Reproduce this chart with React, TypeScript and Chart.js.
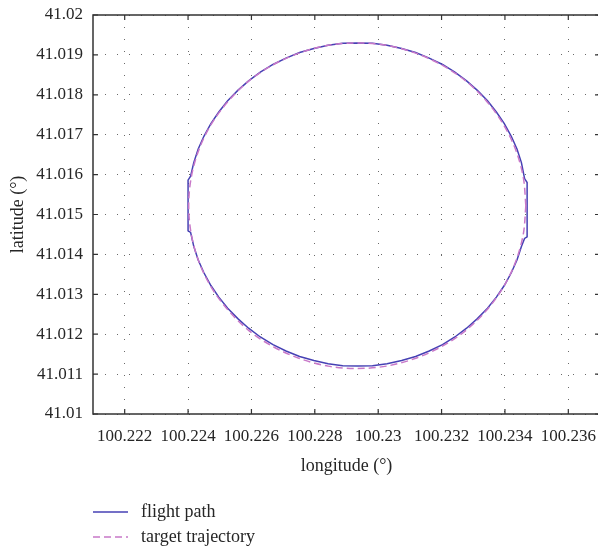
import { useEffect, useRef } from "react";
import { Chart, registerables } from "chart.js";

Chart.register(...registerables);

// Recorded flight path (longitude / latitude, degrees)
const flightLon = [
  100.2347, 100.2347, 100.23462, 100.23452, 100.23438, 100.2342, 100.23398, 100.23373,
  100.23345, 100.23313, 100.23279, 100.23242, 100.23203, 100.23161, 100.23118, 100.23074,
  100.23028, 100.22982, 100.22935, 100.22888, 100.22842, 100.22797, 100.22752, 100.22709,
  100.22668, 100.22628, 100.22591, 100.22557, 100.22525, 100.22497, 100.22472, 100.2245,
  100.22432, 100.22418, 100.22408, 100.224, 100.224, 100.224, 100.22408, 100.22418,
  100.22432, 100.2245, 100.22472, 100.22497, 100.22525, 100.22557, 100.22591, 100.22628,
  100.22668, 100.22709, 100.22752, 100.22797, 100.22842, 100.22888, 100.22935, 100.22982,
  100.23028, 100.23074, 100.23118, 100.23161, 100.23203, 100.23242, 100.23279, 100.23313,
  100.23345, 100.23373, 100.23398, 100.2342, 100.23438, 100.23452, 100.23462, 100.2347,
  100.2347,
];
const flightLat = [
  41.01525, 41.0158, 41.0159, 41.0163, 41.01664, 41.01696, 41.01728, 41.01757,
  41.01785, 41.01811, 41.01835, 41.01857, 41.01876, 41.01892, 41.01906, 41.01916,
  41.01924, 41.01929, 41.0193, 41.01929, 41.01924, 41.01916, 41.01906, 41.01892,
  41.01876, 41.01857, 41.01835, 41.01811, 41.01785, 41.01757, 41.01728, 41.01696,
  41.01664, 41.0163, 41.01596, 41.01586, 41.01525, 41.01459, 41.01455, 41.0142,
  41.01386, 41.01354, 41.01322, 41.01293, 41.01265, 41.01239, 41.01215, 41.01193,
  41.01174, 41.01158, 41.01144, 41.01134, 41.01126, 41.01121, 41.0112, 41.01121,
  41.01126, 41.01134, 41.01144, 41.01158, 41.01174, 41.01193, 41.01215, 41.01239,
  41.01265, 41.01293, 41.01322, 41.01354, 41.01386, 41.0142, 41.0144, 41.01444,
  41.01525,
];

// Planned circular trajectory (longitude / latitude, degrees)
const targetLon = [
  100.23466, 100.23458, 100.23434, 100.23395, 100.23342, 100.23276, 100.232, 100.23116,
  100.23026, 100.22934, 100.22842, 100.22752, 100.22668, 100.22592, 100.22527, 100.22473,
  100.22434, 100.2241, 100.22402, 100.2241, 100.22434, 100.22473, 100.22527, 100.22592,
  100.22668, 100.22752, 100.22842, 100.22934, 100.23026, 100.23116, 100.232, 100.23276,
  100.23342, 100.23395, 100.23434, 100.23458, 100.23466,
];
const targetLat = [
  41.01522, 41.01593, 41.01662, 41.01726, 41.01784, 41.01835, 41.01875, 41.01905,
  41.01924, 41.0193, 41.01924, 41.01905, 41.01875, 41.01835, 41.01784, 41.01726,
  41.01662, 41.01593, 41.01522, 41.01451, 41.01382, 41.01318, 41.0126, 41.01209,
  41.01169, 41.01139, 41.0112, 41.01114, 41.0112, 41.01139, 41.01169, 41.01209,
  41.0126, 41.01318, 41.01382, 41.01451, 41.01522,
];

const lonTicks = [100.222, 100.224, 100.226, 100.228, 100.23, 100.232, 100.234, 100.236];
const latTicks = [41.01, 41.011, 41.012, 41.013, 41.014, 41.015, 41.016, 41.017, 41.018, 41.019, 41.02];
const seriesNames = ["flight path", "target trajectory"];

const FONT = '"Liberation Serif", "Times New Roman", serif';
const TEXT = "#262626";
const FRAME = "#333333";
const FLIGHT_COLOR = "#4641b4";
const TARGET_COLOR = "#c878c8";

const fmt = (v: number) => String(Number(Number(v).toFixed(4)));

// Box around the plot with short inward tick marks
const framePlugin = {
  id: "frameTicks",
  afterDatasetsDraw(chart: any) {
    const { ctx, chartArea: a, scales } = chart;
    ctx.save();
    ctx.strokeStyle = FRAME;
    ctx.lineWidth = 1.5;
    ctx.strokeRect(a.left, a.top, a.right - a.left, a.bottom - a.top);
    ctx.lineWidth = 1.2;
    const t = 5;
    ctx.beginPath();
    for (const v of lonTicks) {
      const x = scales.x.getPixelForValue(v);
      ctx.moveTo(x, a.bottom);
      ctx.lineTo(x, a.bottom - t);
      ctx.moveTo(x, a.top);
      ctx.lineTo(x, a.top + t);
    }
    for (const v of latTicks) {
      const y = scales.y.getPixelForValue(v);
      ctx.moveTo(a.left, y);
      ctx.lineTo(a.left + t, y);
      ctx.moveTo(a.right, y);
      ctx.lineTo(a.right - t, y);
    }
    ctx.stroke();
    ctx.restore();
  },
};

// Two-row legend under the x-axis title
const legendPlugin = {
  id: "stackedLegend",
  afterDraw(chart: any) {
    const { ctx } = chart;
    const rows = [
      { ds: chart.data.datasets[0], y: 512 },
      { ds: chart.data.datasets[1], y: 537 },
    ];
    ctx.save();
    for (const r of rows) {
      ctx.strokeStyle = r.ds.borderColor;
      ctx.lineWidth = 1.5;
      ctx.setLineDash(r.ds.borderDash || []);
      ctx.beginPath();
      ctx.moveTo(93, r.y);
      ctx.lineTo(128, r.y);
      ctx.stroke();
      ctx.setLineDash([]);
      ctx.fillStyle = TEXT;
      ctx.font = `18px ${FONT}`;
      ctx.textAlign = "left";
      ctx.textBaseline = "middle";
      ctx.fillText(r.ds.label, 141, r.y);
    }
    ctx.restore();
  },
};

// Fixed axis box sizes; no extra label overhang padding
const noOverhang = (s: any) => {
  s.paddingTop = 0;
  s.paddingBottom = 0;
  s.paddingLeft = 0;
  s.paddingRight = 0;
};

export default function App() {
  const canvasRef = useRef<HTMLCanvasElement | null>(null);

  useEffect(() => {
    const canvas = canvasRef.current;
    if (!canvas) return;
    const chart = new Chart(canvas, {
      type: "scatter",
      data: {
        datasets: [
          {
            label: seriesNames[0],
            data: flightLon.map((x, i) => ({ x, y: flightLat[i] })),
            showLine: true,
            borderColor: FLIGHT_COLOR,
            borderWidth: 1.5,
            pointRadius: 0,
            tension: 0,
            fill: false,
            order: 2,
          },
          {
            label: seriesNames[1],
            data: targetLon.map((x, i) => ({ x, y: targetLat[i] })),
            showLine: true,
            borderColor: TARGET_COLOR,
            borderWidth: 1.5,
            borderDash: [7, 4],
            pointRadius: 0,
            tension: 0.33,
            fill: false,
            order: 1,
          },
        ],
      },
      options: {
        responsive: false,
        animation: false,
        layout: { padding: { top: 15, right: 0, bottom: 73, left: 0 } },
        plugins: {
          legend: { display: false },
          tooltip: { enabled: false },
        },
        scales: {
          x: {
            type: "linear",
            min: 100.221,
            max: 100.237,
            afterBuildTicks: (s: any) => {
              s.ticks = lonTicks.map((value) => ({ value }));
            },
            afterFit: (s: any) => {
              s.height = 65;
              noOverhang(s);
            },
            grid: { color: "#6a6a6a", lineWidth: 1, drawTicks: false },
            border: { display: false, dash: [1, 11] },
            ticks: {
              padding: 12,
              color: TEXT,
              font: { family: FONT, size: 17 },
              maxRotation: 0,
              callback: (v: any) => fmt(v),
            },
            title: {
              display: true,
              text: "longitude (°)",
              color: TEXT,
              font: { family: FONT, size: 18 },
              padding: { top: 0, bottom: 2 },
            },
          },
          y: {
            type: "linear",
            min: 41.01,
            max: 41.02,
            afterBuildTicks: (s: any) => {
              s.ticks = latTicks.map((value) => ({ value }));
            },
            afterFit: (s: any) => {
              s.width = 93;
              noOverhang(s);
            },
            grid: { color: "#6a6a6a", lineWidth: 1, drawTicks: false },
            border: { display: false, dash: [1, 11] },
            ticks: {
              padding: 10,
              color: TEXT,
              font: { family: FONT, size: 17 },
              callback: (v: any) => fmt(v),
            },
            title: {
              display: true,
              text: "latitude (°)",
              color: TEXT,
              font: { family: FONT, size: 18 },
              padding: { top: 7, bottom: 0 },
            },
          },
        },
      },
      plugins: [framePlugin, legendPlugin],
    });
    return () => chart.destroy();
  }, []);

  return (
    <div
      style={{
        position: "fixed",
        left: 0,
        top: 0,
        width: 598,
        height: 552,
        overflow: "hidden",
        background: "#ffffff",
      }}
    >
      <canvas ref={canvasRef} width={600} height={552} style={{ display: "block" }} />
    </div>
  );
}
